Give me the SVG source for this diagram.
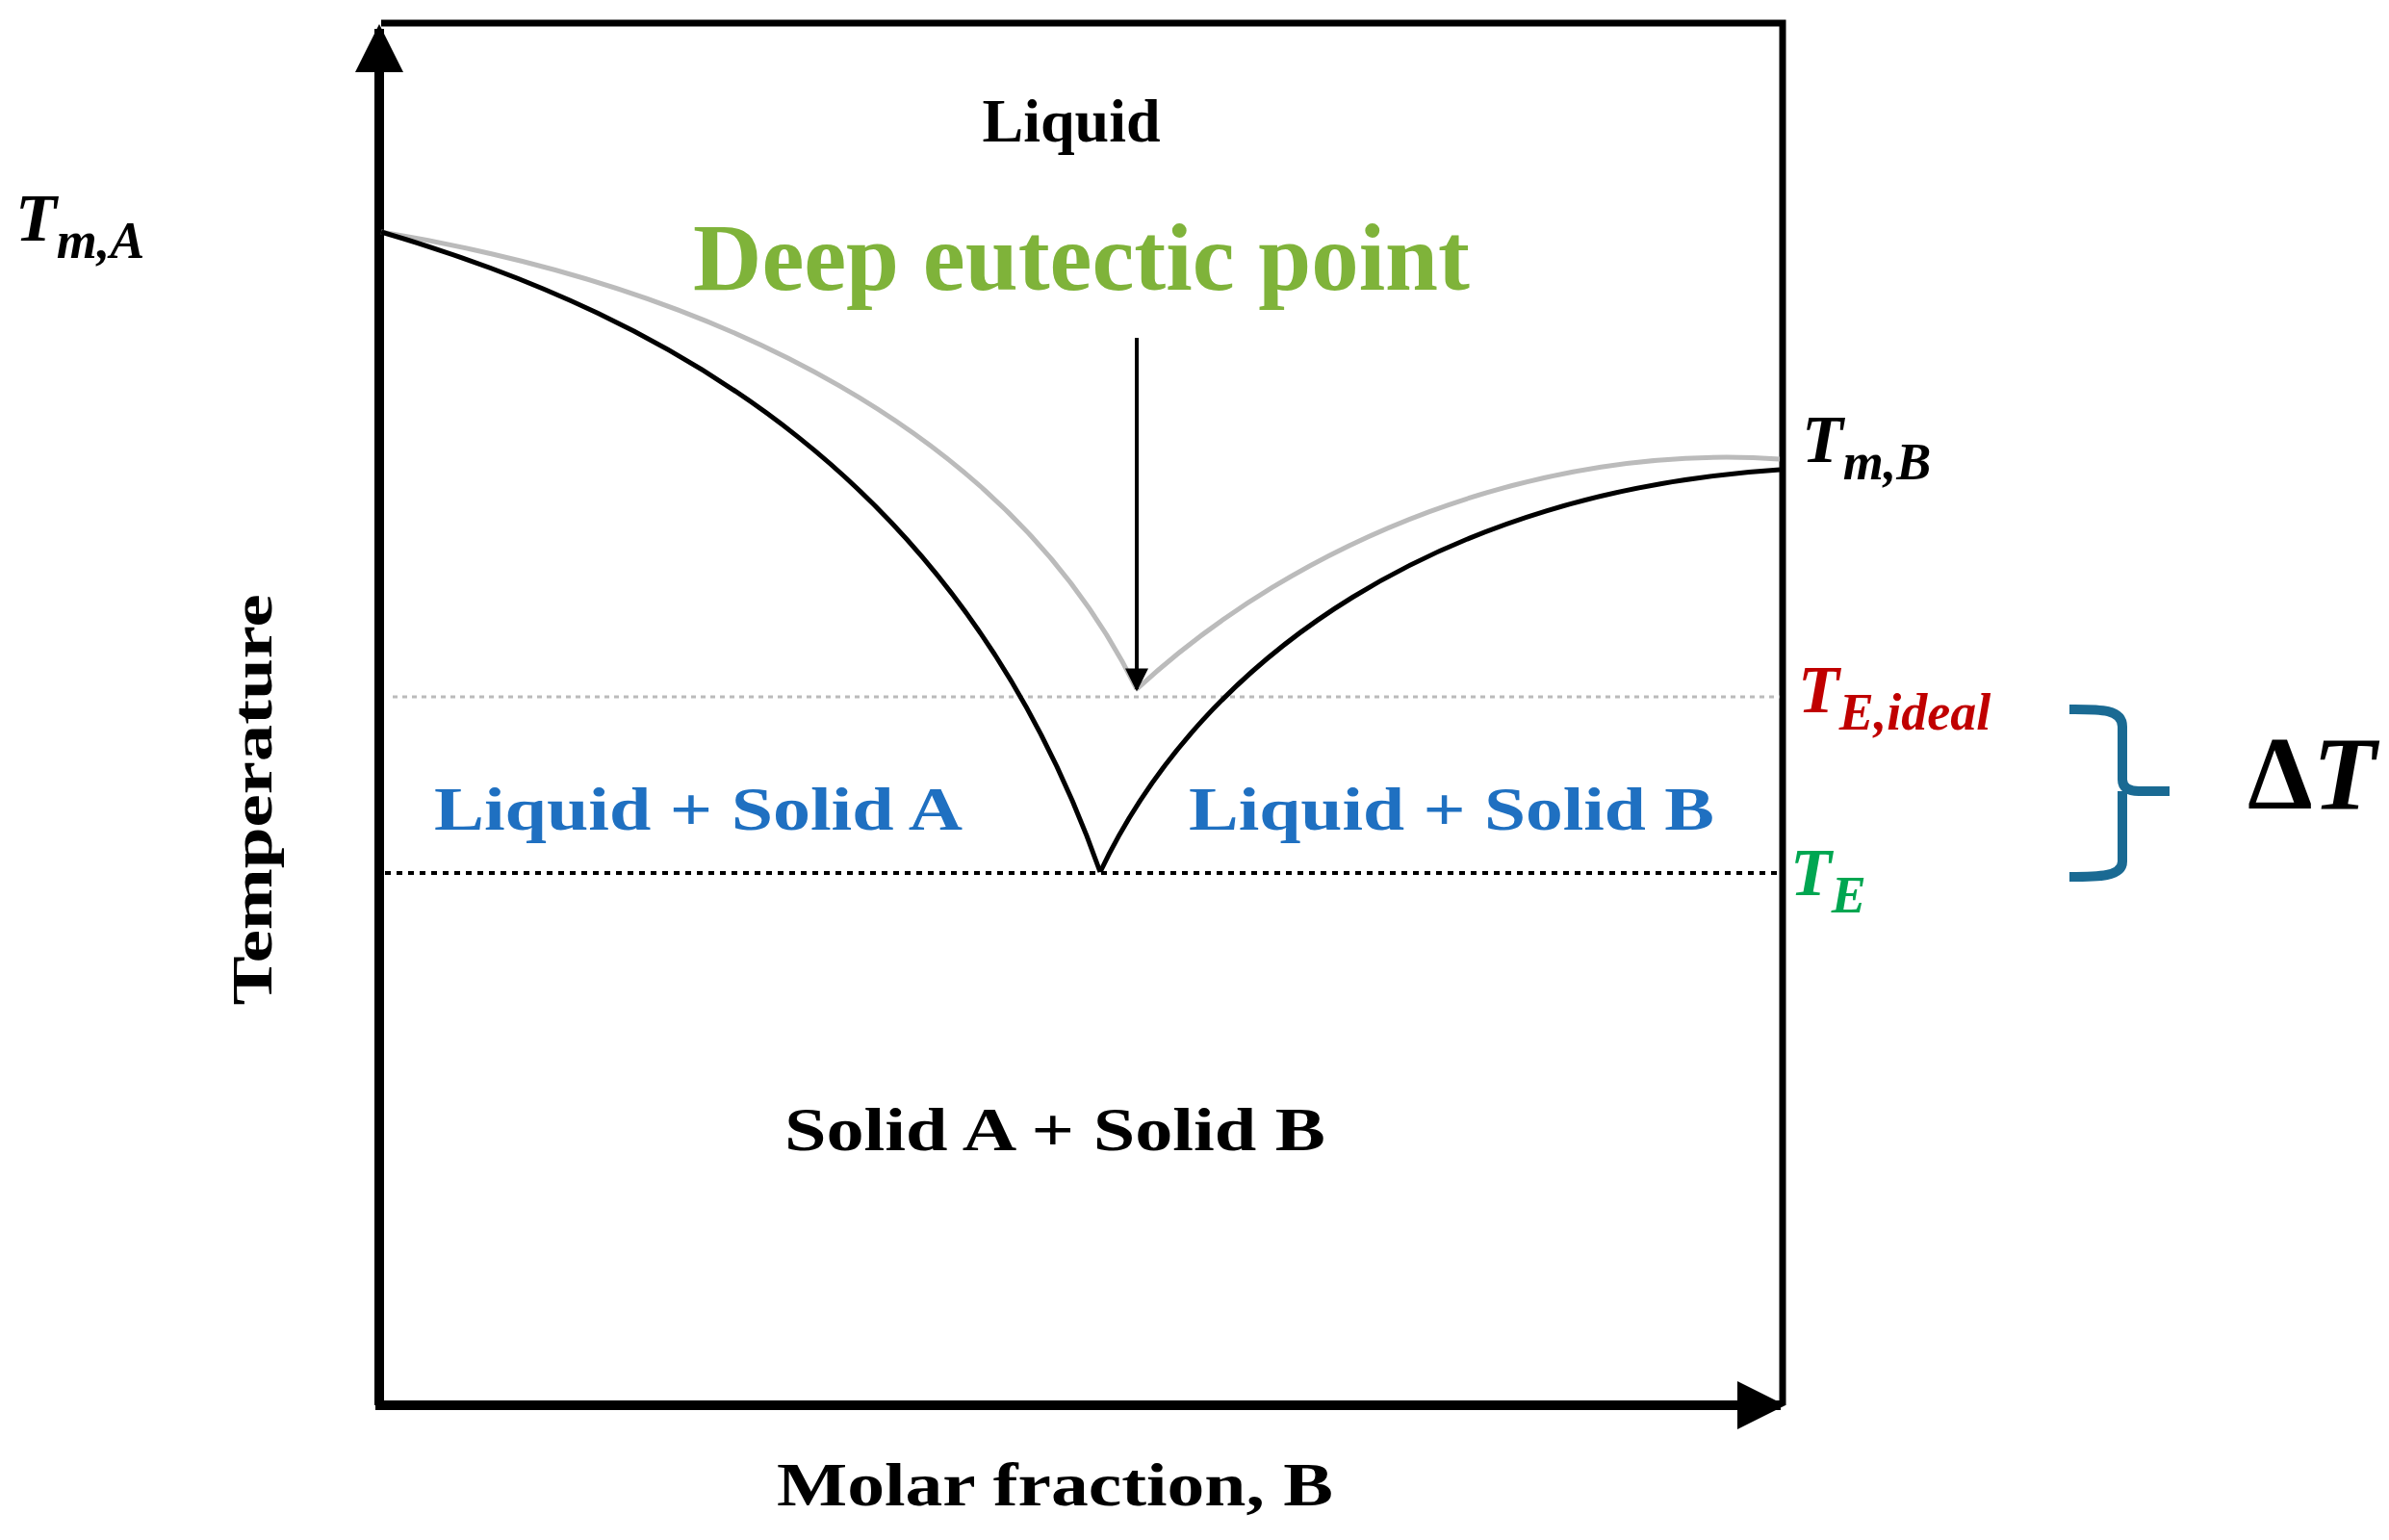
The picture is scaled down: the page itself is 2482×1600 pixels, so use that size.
<svg xmlns="http://www.w3.org/2000/svg" width="2482" height="1600" viewBox="0 0 2482 1600">
<style>
.lbl{font-family:"Liberation Serif",serif;font-weight:bold}
.m{font-family:"Liberation Serif",serif;font-weight:bold;font-style:italic}
.blue{fill:#1f70c1}
</style>
<defs>
<marker id="ah" viewBox="0 0 10 10" refX="9" refY="5" markerWidth="40" markerHeight="24" markerUnits="userSpaceOnUse" orient="auto"><path d="M0,0 L10,5 L0,10 z" fill="#000"/></marker>
<marker id="big" viewBox="0 0 10 10" refX="9" refY="5" markerWidth="5" markerHeight="5" orient="auto"><path d="M0,0 L10,5 L0,10 z" fill="#000"/></marker>
</defs>
<rect width="2482" height="1600" fill="#fff"/>
<g id="frame">
<path d="M396,24 H1852 V1460" fill="none" stroke="#000" stroke-width="7"/>
</g>
<g id="connectors">
<line x1="394" y1="1460" x2="394" y2="30" stroke="#000" stroke-width="10" marker-end="url(#big)"/>
<line x1="390" y1="1460" x2="1850" y2="1460" stroke="#000" stroke-width="10" marker-end="url(#big)"/>
<line x1="408" y1="724" x2="1849" y2="724" stroke="#bbb" stroke-width="3" stroke-dasharray="5,5"/>
<line x1="400" y1="907" x2="1849" y2="907" stroke="#000" stroke-width="4" stroke-dasharray="6,6"/>
<path d="M396,241 C750,300 1050,450 1181,716" fill="none" stroke="#bbb" stroke-width="5"/>
<path d="M1181,716 C1350,560 1600,460 1849,477" fill="none" stroke="#bbb" stroke-width="5"/>
<path d="M396,241 C700,330 1000,500 1143,906" fill="none" stroke="#000" stroke-width="5"/>
<path d="M1143,906 C1250,680 1500,510 1849,488" fill="none" stroke="#000" stroke-width="5"/>
<line x1="1181" y1="351" x2="1181" y2="716" stroke="#000" stroke-width="4" marker-end="url(#ah)"/>
<path d="M2150,737 C2180,737 2205,736 2205,755 V810 Q2205,822 2222,822 H2254 M2205,822 V895 C2205,911 2180,911 2150,911" fill="none" stroke="#1a6a93" stroke-width="10"/>
</g>
<g id="texts">
<text class="lbl" x="1113" y="147" font-size="64" text-anchor="middle">Liquid</text>
<text class="lbl" x="720" y="301" font-size="100" fill="#7fb33a" textLength="807" lengthAdjust="spacingAndGlyphs">Deep eutectic point</text>
<text class="lbl blue" x="451" y="862" font-size="64" textLength="549" lengthAdjust="spacingAndGlyphs">Liquid + Solid A</text>
<text class="lbl blue" x="1235" y="862" font-size="64" textLength="546" lengthAdjust="spacingAndGlyphs">Liquid + Solid B</text>
<text class="lbl" x="815" y="1195" font-size="64" textLength="562" lengthAdjust="spacingAndGlyphs">Solid A + Solid B</text>
<text class="lbl" x="807" y="1564" font-size="64" textLength="578" lengthAdjust="spacingAndGlyphs">Molar fraction, B</text>
<text class="lbl" transform="translate(282,831) rotate(-90)" font-size="60" text-anchor="middle" textLength="427" lengthAdjust="spacingAndGlyphs">Temperature</text>
<text class="m" x="16" y="250" font-size="70">T<tspan font-size="54" dy="18">m,A</tspan></text>
<text class="m" x="1872" y="480" font-size="70">T<tspan font-size="54" dy="18">m,B</tspan></text>
<text class="m" x="1868" y="740" font-size="70" fill="#c00000">T<tspan font-size="54" dy="18">E,ideal</tspan></text>
<text class="m" x="1860" y="930" font-size="70" fill="#00a651">T<tspan font-size="54" dy="18">E</tspan></text>
<text class="m" x="2335" y="840" font-size="108"><tspan font-style="normal">Δ</tspan>T</text>
</g>
</svg>
